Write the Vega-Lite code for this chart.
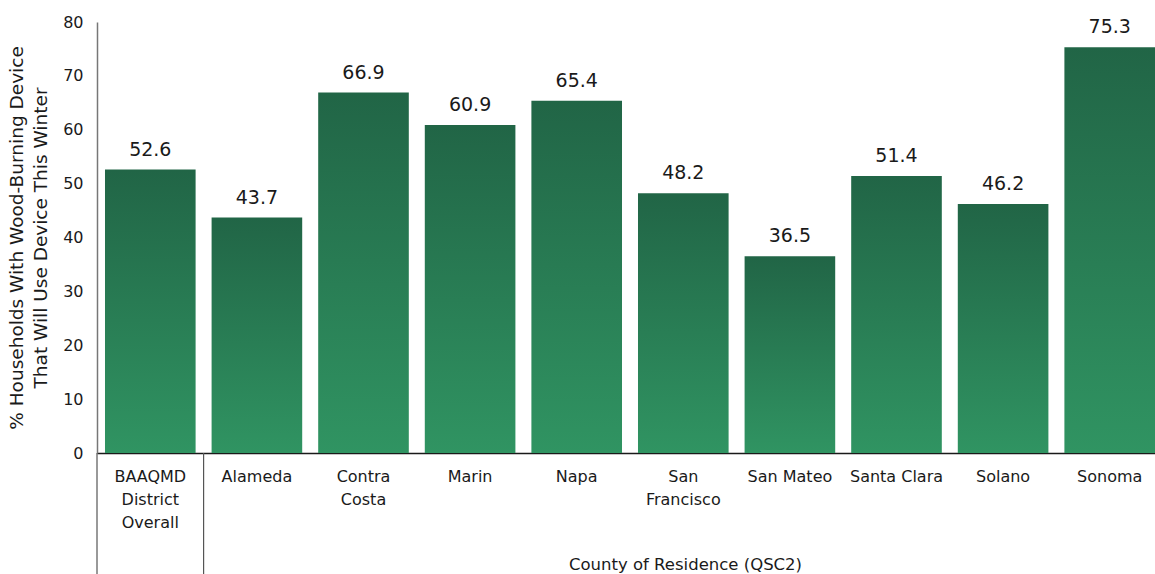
{
  "$schema": "https://vega.github.io/schema/vega-lite/v6.json",
  "autosize": "none",
  "width": 1058,
  "height": 431,
  "padding": {"left": 97, "top": 22, "right": 0, "bottom": 121},
  "background": "white",
  "config": {
    "font": "DejaVu Sans",
    "view": {"stroke": null}
  },
  "datasets": {
    "bars": [
      {"region": "BAAQMD District Overall", "label": "BAAQMD|District|Overall", "pct": 52.6},
      {"region": "Alameda", "label": "Alameda", "pct": 43.7},
      {"region": "Contra Costa", "label": "Contra|Costa", "pct": 66.9},
      {"region": "Marin", "label": "Marin", "pct": 60.9},
      {"region": "Napa", "label": "Napa", "pct": 65.4},
      {"region": "San Francisco", "label": "San|Francisco", "pct": 48.2},
      {"region": "San Mateo", "label": "San Mateo", "pct": 36.5},
      {"region": "Santa Clara", "label": "Santa Clara", "pct": 51.4},
      {"region": "Solano", "label": "Solano", "pct": 46.2},
      {"region": "Sonoma", "label": "Sonoma", "pct": 75.3}
    ],
    "separators": [
      {"pos": 0, "top": 0, "bottom": -22.5},
      {"pos": 1, "top": 0, "bottom": -22.5}
    ]
  },
  "layer": [
    {
      "data": {"name": "bars"},
      "encoding": {
        "x": {
          "field": "label",
          "type": "nominal",
          "sort": null,
          "scale": {"range": [0, 1066], "paddingInner": 0.15, "paddingOuter": 0.075},
          "axis": {
            "title": "County of Residence (QSC2)",
            "titleFont": "DejaVu Sans",
            "titleFontSize": 16.5,
            "titleFontWeight": "normal",
            "titleColor": "#1a1a1a",
            "titleAnchor": "start",
            "titleAlign": "center",
            "titleX": 588,
            "titleY": 111,
            "titleBaseline": "middle",
            "labelExpr": "split(datum.label, '|')",
            "labelAngle": 0,
            "labelFontSize": 16,
            "labelColor": "#1a1a1a",
            "labelPadding": 15,
            "labelBaseline": "top",
            "labelLineHeight": 23,
            "labelLimit": 200,
            "ticks": false,
            "domainColor": "#1a1a1a",
            "domainWidth": 1.5,
            "grid": false
          }
        },
        "y": {
          "field": "pct",
          "type": "quantitative",
          "scale": {"domain": [0, 80], "nice": false},
          "axis": {
            "title": ["% Households With Wood-Burning Device", "That Will Use Device This Winter"],
            "titleFontSize": 18.5,
            "titleFontWeight": "normal",
            "titleColor": "#1a1a1a",
            "titlePadding": 12,
            "titleLineHeight": 24,
            "values": [0, 10, 20, 30, 40, 50, 60, 70, 80],
            "labelFontSize": 16,
            "labelColor": "#1a1a1a",
            "labelPadding": 14,
            "ticks": false,
            "grid": false,
            "domainColor": "#777777",
            "domainWidth": 1.5
          }
        }
      },
      "layer": [
        {
          "mark": {
            "type": "bar",
            "color": {
              "gradient": "linear",
              "x1": 0, "y1": 0, "x2": 0, "y2": 1,
              "stops": [
                {"offset": 0, "color": "#216546"},
                {"offset": 1, "color": "#309462"}
              ]
            }
          }
        },
        {
          "mark": {"type": "text", "baseline": "alphabetic", "dy": -14, "fontSize": 19, "color": "#1a1a1a"},
          "encoding": {
            "text": {"field": "pct", "type": "quantitative", "format": ".1f"}
          }
        }
      ]
    },
    {
      "data": {"name": "separators"},
      "mark": {"type": "rule", "color": "#555555", "strokeWidth": 1.2},
      "encoding": {
        "x": {"field": "pos", "type": "quantitative", "scale": {"domain": [0, 10], "range": [0, 1066], "nice": false, "zero": false}, "axis": null},
        "y": {"field": "top", "type": "quantitative"},
        "y2": {"field": "bottom"}
      }
    }
  ],
  "resolve": {"scale": {"x": "independent"}, "axis": {"x": "independent"}}
}
